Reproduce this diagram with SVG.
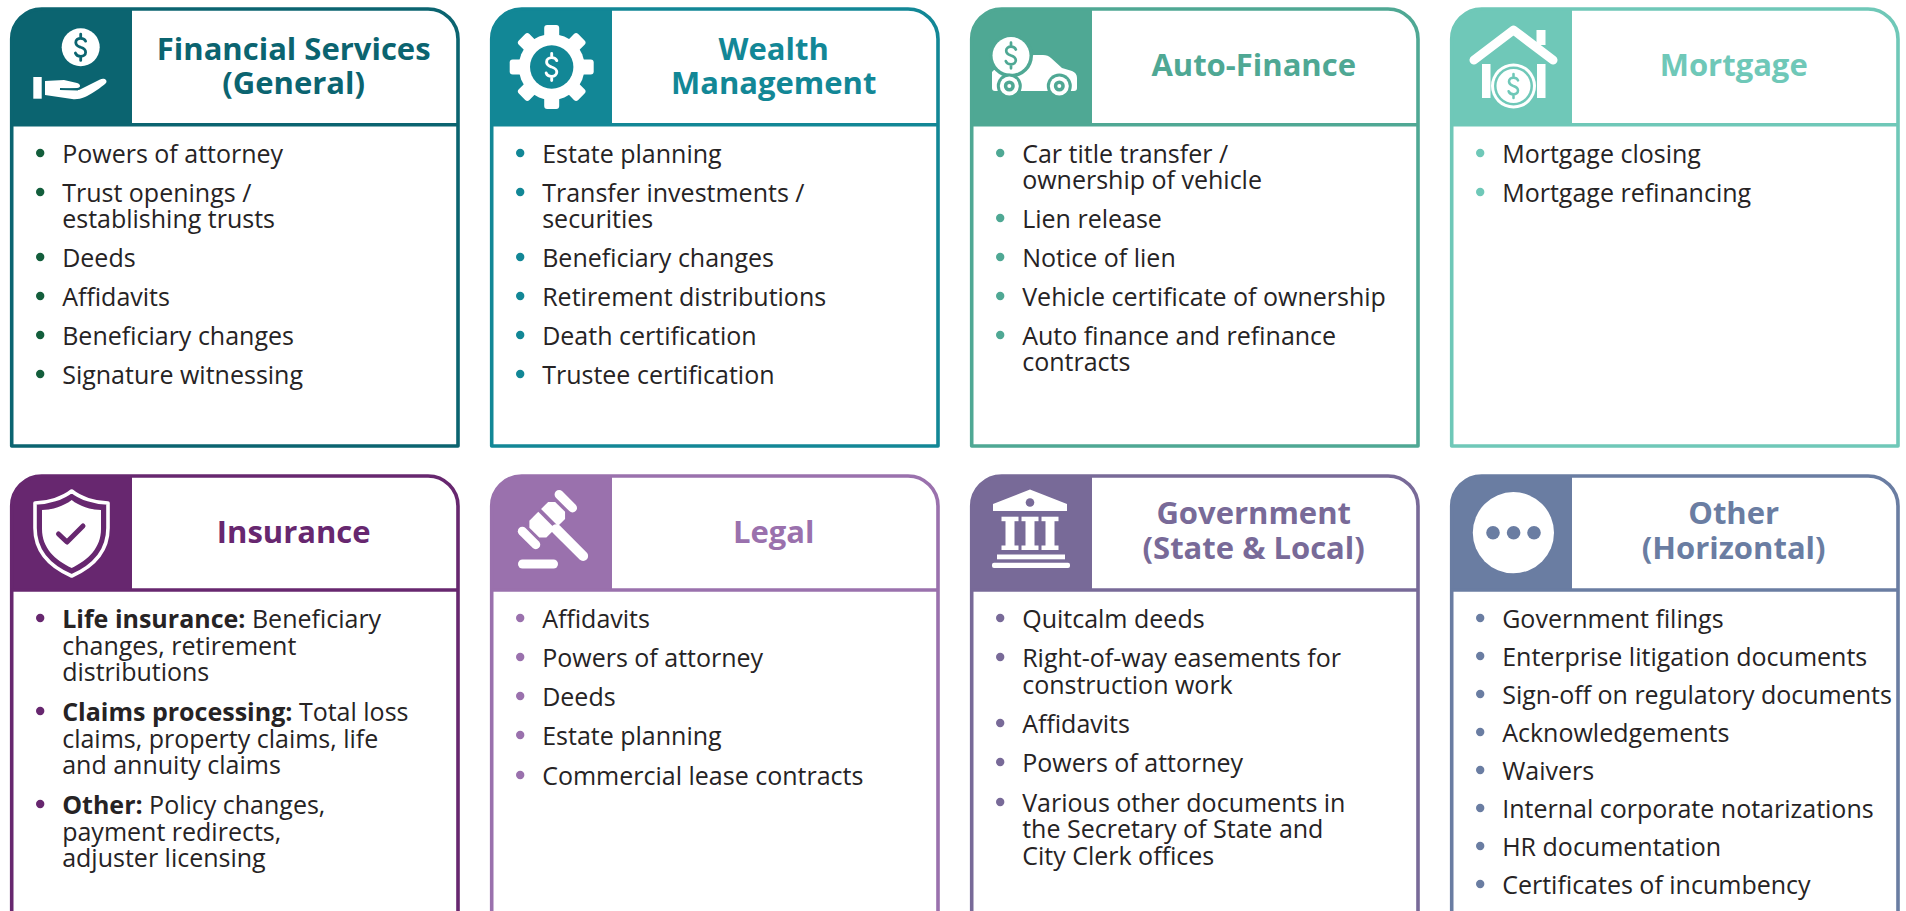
<svg xmlns="http://www.w3.org/2000/svg" width="1906" height="911" viewBox="0 0 1906 911">
<defs>
<style>
.frame{fill:none;stroke:var(--c);stroke-width:3.6;stroke-linejoin:round}
.hline{stroke:var(--c);stroke-width:3.6}
.hdr{fill:var(--c)}
.title{font-family:"Open Sans","Liberation Sans",sans-serif;font-weight:700;font-size:31px;text-anchor:middle;fill:var(--c)}
.item{font-family:"Open Sans","Liberation Sans",sans-serif;font-size:25px;fill:#262324}
.b{font-weight:700}
.dot{fill:var(--d,var(--c))}
.w{fill:#fff}
.ic{fill:var(--c)}
</style>
<path id="dol" d="M6,-7.5 C5,-10 2.5,-11 0,-11 C-3.5,-11 -6,-9 -6,-6 C-6,-2 -2.5,-1 0,0 C3,1 6,2.5 6,6 C6,9 3.5,11 0,11 C-3,11 -5.5,10 -6.5,7 M0,-16 V-11 M0,11 V16" fill="none" stroke-width="3.4" stroke-linecap="round"/>
</defs>
<rect width="1906" height="911" fill="#fff"/>

<g id="financial-services" style="--c:#0b6470;--d:#135e3c">
 <path class="hdr" d="M11.7,124.7 V39 A30,30 0 0 1 41.7,9 H132 V124.7 Z"/>
 <path class="frame" d="M11.7,446 V39 A30,30 0 0 1 41.7,9 H428 A30,30 0 0 1 458,39 V446 Z"/>
 <line class="hline" x1="11.7" y1="124.7" x2="458" y2="124.7"/>
 <circle class="w" cx="80.7" cy="47.3" r="19"/>
 <use href="#dol" transform="translate(80.7,47.3) scale(0.82)" stroke="#0b6470"/>
 <rect class="w" x="33.3" y="77" width="8.4" height="21.7"/>
 <path class="w" d="M45,81 L64,80 L77,83 C81,84 81,88 77,88 L63,89 L79,90 L100,79.5 C104,77.5 108,80 106,83 C102,87 90,95 85,97 C80,99 76,99.5 72,99 L45,95 Z"/>
 <line x1="60" y1="89" x2="78" y2="89.5" stroke="#0b6470" stroke-width="1.8"/>
 <text class="title" x="293.7" y="60">Financial Services</text>
 <text class="title" x="293.7" y="94">(General)</text>
 <circle class="dot" cx="40.2" cy="153" r="4.2"/>
 <circle class="dot" cx="40.2" cy="192" r="4.2"/>
 <circle class="dot" cx="40.2" cy="257" r="4.2"/>
 <circle class="dot" cx="40.2" cy="296" r="4.2"/>
 <circle class="dot" cx="40.2" cy="335" r="4.2"/>
 <circle class="dot" cx="40.2" cy="374" r="4.2"/>
 <text class="item" x="62.2" y="163">Powers of attorney</text>
 <text class="item" x="62.2" y="202">Trust openings /<tspan x="62.2" y="228">establishing trusts</tspan></text>
 <text class="item" x="62.2" y="267">Deeds</text>
 <text class="item" x="62.2" y="306">Affidavits</text>
 <text class="item" x="62.2" y="345">Beneficiary changes</text>
 <text class="item" x="62.2" y="384">Signature witnessing</text>
</g>

<g id="wealth-management" style="--c:#128796">
 <path class="hdr" d="M491.7,124.7 V39 A30,30 0 0 1 521.7,9 H612 V124.7 Z"/>
 <path class="frame" d="M491.7,446 V39 A30,30 0 0 1 521.7,9 H908 A30,30 0 0 1 938,39 V446 Z"/>
 <line class="hline" x1="491.7" y1="124.7" x2="938" y2="124.7"/>
 <g transform="translate(551.7,67)">
  <circle class="w" r="33"/>
  <rect class="w" x="-7.5" y="-42" width="15" height="16" rx="3"/>
  <rect class="w" x="-7.5" y="-42" width="15" height="16" rx="3" transform="rotate(45)"/>
  <rect class="w" x="-7.5" y="-42" width="15" height="16" rx="3" transform="rotate(90)"/>
  <rect class="w" x="-7.5" y="-42" width="15" height="16" rx="3" transform="rotate(135)"/>
  <rect class="w" x="-7.5" y="-42" width="15" height="16" rx="3" transform="rotate(180)"/>
  <rect class="w" x="-7.5" y="-42" width="15" height="16" rx="3" transform="rotate(225)"/>
  <rect class="w" x="-7.5" y="-42" width="15" height="16" rx="3" transform="rotate(270)"/>
  <rect class="w" x="-7.5" y="-42" width="15" height="16" rx="3" transform="rotate(315)"/>
  <circle class="ic" r="21.7"/>
  <use href="#dol" transform="scale(0.85)" stroke="#fff"/>
 </g>
 <text class="title" x="773.7" y="60">Wealth</text>
 <text class="title" x="773.7" y="94">Management</text>
 <circle class="dot" cx="520.2" cy="153" r="4.2"/>
 <circle class="dot" cx="520.2" cy="192" r="4.2"/>
 <circle class="dot" cx="520.2" cy="257" r="4.2"/>
 <circle class="dot" cx="520.2" cy="296" r="4.2"/>
 <circle class="dot" cx="520.2" cy="335" r="4.2"/>
 <circle class="dot" cx="520.2" cy="374" r="4.2"/>
 <text class="item" x="542.2" y="163">Estate planning</text>
 <text class="item" x="542.2" y="202">Transfer investments /<tspan x="542.2" y="228">securities</tspan></text>
 <text class="item" x="542.2" y="267">Beneficiary changes</text>
 <text class="item" x="542.2" y="306">Retirement distributions</text>
 <text class="item" x="542.2" y="345">Death certification</text>
 <text class="item" x="542.2" y="384">Trustee certification</text>
</g>

<g id="auto-finance" style="--c:#4fa894">
 <path class="hdr" d="M971.7,124.7 V39 A30,30 0 0 1 1001.7,9 H1092 V124.7 Z"/>
 <path class="frame" d="M971.7,446 V39 A30,30 0 0 1 1001.7,9 H1388 A30,30 0 0 1 1418,39 V446 Z"/>
 <line class="hline" x1="971.7" y1="124.7" x2="1418" y2="124.7"/>
 <path class="w" d="M994,70 L1022,70 L1028,57 Q1030,55 1034,55 L1043,55 Q1048,55 1051,58 L1062,68 L1072,71 Q1077,73 1077,78 L1077,88 Q1077,91 1074,91 L995,91 Q992,91 992,88 L992,72 Z"/>
 <circle class="ic" cx="1011" cy="55.5" r="22"/>
 <circle class="w" cx="1011" cy="55.5" r="18.5"/>
 <use href="#dol" transform="translate(1011,55.5) scale(0.8)" stroke="#4fa894"/>
 <circle class="ic" cx="1009.3" cy="86" r="12.5"/>
 <circle class="w" cx="1009.3" cy="86" r="9.5"/>
 <circle class="ic" cx="1009.3" cy="86" r="5.5"/>
 <circle class="w" cx="1009.3" cy="86" r="2"/>
 <circle class="ic" cx="1059.3" cy="86" r="12.5"/>
 <circle class="w" cx="1059.3" cy="86" r="9.5"/>
 <circle class="ic" cx="1059.3" cy="86" r="5.5"/>
 <circle class="w" cx="1059.3" cy="86" r="2"/>
 <text class="title" x="1253.7" y="76">Auto-Finance</text>
 <circle class="dot" cx="1000.2" cy="153" r="4.2"/>
 <circle class="dot" cx="1000.2" cy="218" r="4.2"/>
 <circle class="dot" cx="1000.2" cy="257" r="4.2"/>
 <circle class="dot" cx="1000.2" cy="296" r="4.2"/>
 <circle class="dot" cx="1000.2" cy="335" r="4.2"/>
 <text class="item" x="1022.2" y="163">Car title transfer /<tspan x="1022.2" y="189">ownership of vehicle</tspan></text>
 <text class="item" x="1022.2" y="228">Lien release</text>
 <text class="item" x="1022.2" y="267">Notice of lien</text>
 <text class="item" x="1022.2" y="306">Vehicle certificate of ownership</text>
 <text class="item" x="1022.2" y="345">Auto finance and refinance<tspan x="1022.2" y="371">contracts</tspan></text>
</g>

<g id="mortgage" style="--c:#6fc8b8">
 <path class="hdr" d="M1451.7,124.7 V39 A30,30 0 0 1 1481.7,9 H1572 V124.7 Z"/>
 <path class="frame" d="M1451.7,446 V39 A30,30 0 0 1 1481.7,9 H1868 A30,30 0 0 1 1898,39 V446 Z"/>
 <line class="hline" x1="1451.7" y1="124.7" x2="1898" y2="124.7"/>
 <rect class="w" x="1536.5" y="30" width="9" height="15"/>
 <polyline points="1474,60 1513.5,30 1553,60" fill="none" stroke="#fff" stroke-width="9" stroke-linecap="round" stroke-linejoin="round"/>
 <rect class="w" x="1482" y="64" width="8.5" height="34"/>
 <rect class="w" x="1537" y="64" width="8.5" height="34"/>
 <circle class="w" cx="1513.5" cy="86" r="22.5"/>
 <circle class="ic" cx="1513.5" cy="86" r="19.5"/>
 <circle class="w" cx="1513.5" cy="86" r="17"/>
 <use href="#dol" transform="translate(1513.5,86) scale(0.75)" stroke="#6fc8b8"/>
 <text class="title" x="1733.7" y="76">Mortgage</text>
 <circle class="dot" cx="1480.2" cy="153" r="4.2"/>
 <circle class="dot" cx="1480.2" cy="192" r="4.2"/>
 <text class="item" x="1502.2" y="163">Mortgage closing</text>
 <text class="item" x="1502.2" y="202">Mortgage refinancing</text>
</g>

<g id="insurance" style="--c:#67276f">
 <path class="hdr" d="M11.7,590 V506 A30,30 0 0 1 41.7,476 H132 V590 Z"/>
 <path class="frame" d="M11.7,930 V506 A30,30 0 0 1 41.7,476 H428 A30,30 0 0 1 458,506 V930"/>
 <line class="hline" x1="11.7" y1="590" x2="458" y2="590"/>
 <path d="M71.7,491 C80,498 95,503 108,503 L108,528 C108,552 92,567 71.7,576 C51,567 35,552 35,528 L35,503 C48,503 63,498 71.7,491 Z" fill="none" stroke="#fff" stroke-width="3.6" stroke-linejoin="round"/>
 <path class="w" d="M71.7,500 C79,506 91,510 101,510 L101,529 C101,548 88,560 71.7,568 C55,560 42,548 42,529 L42,510 C52,510 64,506 71.7,500 Z"/>
 <polyline points="58.5,534 67,542 83,526" fill="none" stroke="#67276f" stroke-width="5" stroke-linecap="round" stroke-linejoin="round"/>
 <text class="title" x="293.7" y="543">Insurance</text>
 <circle class="dot" cx="40.2" cy="618" r="4.2"/>
 <circle class="dot" cx="40.2" cy="711" r="4.2"/>
 <circle class="dot" cx="40.2" cy="804" r="4.2"/>
 <text class="item" x="62.2" y="628"><tspan class="b">Life insurance:</tspan> Beneficiary<tspan x="62.2" y="654.5">changes, retirement</tspan><tspan x="62.2" y="681">distributions</tspan></text>
 <text class="item" x="62.2" y="721"><tspan class="b">Claims processing:</tspan> Total loss<tspan x="62.2" y="747.5">claims, property claims, life</tspan><tspan x="62.2" y="774">and annuity claims</tspan></text>
 <text class="item" x="62.2" y="814"><tspan class="b">Other:</tspan> Policy changes,<tspan x="62.2" y="840.5">payment redirects,</tspan><tspan x="62.2" y="867">adjuster licensing</tspan></text>
</g>

<g id="legal" style="--c:#9a71ad">
 <path class="hdr" d="M491.7,590 V506 A30,30 0 0 1 521.7,476 H612 V590 Z"/>
 <path class="frame" d="M491.7,930 V506 A30,30 0 0 1 521.7,476 H908 A30,30 0 0 1 938,506 V930"/>
 <line class="hline" x1="491.7" y1="590" x2="938" y2="590"/>
 <g transform="translate(546,521) rotate(-45)">
  <rect class="w" x="23.5" y="-14" width="9" height="28" rx="4.5"/>
  <rect class="w" x="-28.5" y="-14" width="9" height="28" rx="4.5"/>
  <path class="w" d="M-16.5,-7 L-11.5,-12 L15,-12 L20,-7 L20,7 L15,12 L-11.5,12 L-16.5,7 Z"/>
  <rect class="ic" x="1" y="-13" width="4" height="26"/>
  <rect class="w" x="-3.5" y="8" width="10" height="48" rx="5"/>
 </g>
 <rect class="w" x="518" y="559.5" width="40" height="9" rx="4.5"/>
 <text class="title" x="773.7" y="543">Legal</text>
 <circle class="dot" cx="520.2" cy="618" r="4.2"/>
 <circle class="dot" cx="520.2" cy="657" r="4.2"/>
 <circle class="dot" cx="520.2" cy="696" r="4.2"/>
 <circle class="dot" cx="520.2" cy="735" r="4.2"/>
 <circle class="dot" cx="520.2" cy="775" r="4.2"/>
 <text class="item" x="542.2" y="628">Affidavits</text>
 <text class="item" x="542.2" y="667">Powers of attorney</text>
 <text class="item" x="542.2" y="706">Deeds</text>
 <text class="item" x="542.2" y="745">Estate planning</text>
 <text class="item" x="542.2" y="785">Commercial lease contracts</text>
</g>

<g id="government" style="--c:#786a98">
 <path class="hdr" d="M971.7,590 V506 A30,30 0 0 1 1001.7,476 H1092 V590 Z"/>
 <path class="frame" d="M971.7,930 V506 A30,30 0 0 1 1001.7,476 H1388 A30,30 0 0 1 1418,506 V930"/>
 <line class="hline" x1="971.7" y1="590" x2="1418" y2="590"/>
 <path class="w" d="M993,504 L1030,489.5 L1067,504 L1067,511 L993,511 Z"/>
 <circle class="ic" cx="1030" cy="502.5" r="4.3"/>
 <rect class="w" x="1001.5" y="516.7" width="17" height="4.5"/>
 <rect class="w" x="1005.5" y="520" width="9" height="26"/>
 <rect class="w" x="1001.5" y="545.5" width="17" height="4.5"/>
 <rect class="w" x="1021.5" y="516.7" width="17" height="4.5"/>
 <rect class="w" x="1025.5" y="520" width="9" height="26"/>
 <rect class="w" x="1021.5" y="545.5" width="17" height="4.5"/>
 <rect class="w" x="1041.5" y="516.7" width="17" height="4.5"/>
 <rect class="w" x="1045.5" y="520" width="9" height="26"/>
 <rect class="w" x="1041.5" y="545.5" width="17" height="4.5"/>
 <rect class="w" x="997" y="554.5" width="68" height="4.8"/>
 <rect class="w" x="992" y="562.7" width="78" height="5.3" rx="2"/>
 <text class="title" x="1253.7" y="524">Government</text>
 <text class="title" x="1253.7" y="559">(State &amp; Local)</text>
 <circle class="dot" cx="1000.2" cy="618" r="4.2"/>
 <circle class="dot" cx="1000.2" cy="657" r="4.2"/>
 <circle class="dot" cx="1000.2" cy="723" r="4.2"/>
 <circle class="dot" cx="1000.2" cy="762" r="4.2"/>
 <circle class="dot" cx="1000.2" cy="802" r="4.2"/>
 <text class="item" x="1022.2" y="628">Quitcalm deeds</text>
 <text class="item" x="1022.2" y="667">Right-of-way easements for<tspan x="1022.2" y="693.5">construction work</tspan></text>
 <text class="item" x="1022.2" y="733">Affidavits</text>
 <text class="item" x="1022.2" y="772">Powers of attorney</text>
 <text class="item" x="1022.2" y="812">Various other documents in<tspan x="1022.2" y="838">the Secretary of State and</tspan><tspan x="1022.2" y="865">City Clerk offices</tspan></text>
</g>

<g id="other" style="--c:#6a7da2">
 <path class="hdr" d="M1451.7,590 V506 A30,30 0 0 1 1481.7,476 H1572 V590 Z"/>
 <path class="frame" d="M1451.7,930 V506 A30,30 0 0 1 1481.7,476 H1868 A30,30 0 0 1 1898,506 V930"/>
 <line class="hline" x1="1451.7" y1="590" x2="1898" y2="590"/>
 <circle class="w" cx="1513.4" cy="532.7" r="40.6"/>
 <circle class="ic" cx="1493" cy="532.7" r="6.8"/>
 <circle class="ic" cx="1513.6" cy="532.7" r="6.8"/>
 <circle class="ic" cx="1534" cy="532.7" r="6.8"/>
 <text class="title" x="1733.7" y="524">Other</text>
 <text class="title" x="1733.7" y="559">(Horizontal)</text>
 <circle class="dot" cx="1480.2" cy="618" r="4.2"/>
 <circle class="dot" cx="1480.2" cy="656" r="4.2"/>
 <circle class="dot" cx="1480.2" cy="694" r="4.2"/>
 <circle class="dot" cx="1480.2" cy="732" r="4.2"/>
 <circle class="dot" cx="1480.2" cy="770" r="4.2"/>
 <circle class="dot" cx="1480.2" cy="808" r="4.2"/>
 <circle class="dot" cx="1480.2" cy="846" r="4.2"/>
 <circle class="dot" cx="1480.2" cy="884" r="4.2"/>
 <text class="item" x="1502.2" y="628">Government filings</text>
 <text class="item" x="1502.2" y="666">Enterprise litigation documents</text>
 <text class="item" x="1502.2" y="704">Sign-off on regulatory documents</text>
 <text class="item" x="1502.2" y="742">Acknowledgements</text>
 <text class="item" x="1502.2" y="780">Waivers</text>
 <text class="item" x="1502.2" y="818">Internal corporate notarizations</text>
 <text class="item" x="1502.2" y="856">HR documentation</text>
 <text class="item" x="1502.2" y="894">Certificates of incumbency</text>
</g>
</svg>
